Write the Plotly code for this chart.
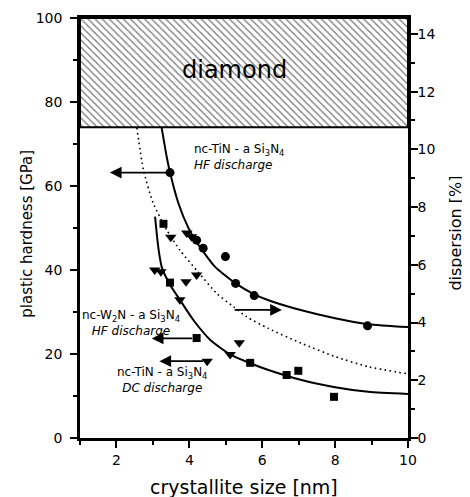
import plotly.graph_objects as go

# ---- data ----
# nc-TiN - a Si3N4, HF discharge (circles, left axis)
tin_hf_x = [3.47, 4.20, 4.38, 4.99, 5.27, 5.78, 8.89]
tin_hf_y = [63.2, 47.1, 45.2, 43.2, 36.8, 33.9, 26.7]

# nc-W2N - a Si3N4, HF discharge (squares, left axis)
w2n_x = [3.29, 3.47, 4.20, 5.67, 6.67, 6.99, 7.97]
w2n_y = [51.0, 37.0, 23.8, 17.9, 15.0, 16.0, 9.8]

# nc-TiN - a Si3N4, DC discharge (down triangles, left axis)
tin_dc_x = [3.49, 3.93, 4.06, 3.05, 3.22, 3.91, 4.20, 3.74, 4.49, 5.12, 5.37]
tin_dc_y = [47.8, 48.8, 47.9, 40.0, 39.6, 37.2, 38.8, 32.9, 18.3, 19.9, 22.7]

# fitted curves (left axis)
fit_hf_x = [3.24, 3.38, 3.47, 3.70, 3.97, 4.20, 4.38, 4.70, 5.27, 5.78, 6.17, 7.08, 8.00, 8.91, 10.0]
fit_hf_y = [73.9, 66.9, 63.2, 55.9, 50.1, 46.6, 44.4, 40.8, 36.8, 34.2, 32.8, 30.4, 28.5, 27.1, 26.4]

fit_lo_x = [3.06, 3.12, 3.18, 3.25, 3.47, 3.74, 4.11, 4.57, 5.12, 5.67, 6.17, 7.08, 8.00, 8.91, 10.0]
fit_lo_y = [52.7, 47.5, 43.5, 40.5, 36.5, 32.9, 28.1, 23.4, 19.9, 17.8, 16.2, 13.8, 12.1, 11.0, 10.5]

# dispersion curve (right axis, %)
disp_x = [2.56, 2.74, 3.01, 3.38, 3.74, 4.24, 4.75, 5.21, 5.57, 6.16, 7.08, 8.00, 8.91, 10.0]
disp_y = [10.75, 9.29, 8.13, 7.21, 6.51, 5.75, 5.01, 4.55, 4.20, 3.80, 3.28, 2.82, 2.47, 2.22]

# diamond region (hardness)
diamond_x = [1, 10, 10, 1, 1]
diamond_y = [74, 74, 100, 100, 74]

x_ticks = [2, 4, 6, 8, 10]
y_ticks = [0, 20, 40, 60, 80, 100]
y2_ticks = [0, 2, 4, 6, 8, 10, 12, 14]

FONT = "DejaVu Sans"

fig = go.Figure()

fig.add_trace(go.Scatter(
    x=diamond_x, y=diamond_y, mode="lines", fill="toself",
    fillcolor="white",
    fillpattern=dict(shape="\\", fgcolor="black", bgcolor="white", size=5, solidity=0.28),
    line=dict(color="black", width=2), hoverinfo="skip", showlegend=False))

fig.add_trace(go.Scatter(x=fit_hf_x, y=fit_hf_y, mode="lines",
                         line=dict(color="black", width=2, shape="spline", smoothing=0.6),
                         showlegend=False))
fig.add_trace(go.Scatter(x=fit_lo_x, y=fit_lo_y, mode="lines",
                         line=dict(color="black", width=2, shape="spline", smoothing=0.6),
                         showlegend=False))
fig.add_trace(go.Scatter(x=disp_x, y=disp_y, mode="lines", yaxis="y2",
                         line=dict(color="black", width=1.6, dash="1.6px,3.4px",
                                   shape="spline", smoothing=0.6),
                         showlegend=False))

fig.add_trace(go.Scatter(x=tin_hf_x, y=tin_hf_y, mode="markers",
                         marker=dict(symbol="circle", size=9, color="black"), showlegend=False))
fig.add_trace(go.Scatter(x=w2n_x, y=w2n_y, mode="markers",
                         marker=dict(symbol="square", size=8, color="black"), showlegend=False))
fig.add_trace(go.Scatter(x=tin_dc_x, y=tin_dc_y, mode="markers",
                         marker=dict(symbol="triangle-down", size=10, color="black"), showlegend=False))

# arrows
arrows = [
    ((1.82, 63.2), (3.42, 63.2)),
    ((6.54, 30.5), (5.20, 30.5)),
    ((2.97, 23.7), (4.12, 23.7)),
    ((3.18, 18.3), (4.42, 18.3)),
]
for (hx, hy), (tx, ty) in arrows:
    fig.add_annotation(x=hx, y=hy, ax=tx, ay=ty, xref="x", yref="y", axref="x", ayref="y",
                       text="", showarrow=True, arrowhead=2, arrowsize=1.3,
                       arrowwidth=1.8, arrowcolor="black")

lab = dict(family=FONT, size=12, color="black")
fig.add_annotation(x=4.08, y=67.0, xref="x", yref="y", xanchor="left", yanchor="middle",
                   align="left",
                   text="nc-TiN - a Si<sub>3</sub>N<sub>4</sub><br><i>HF discharge</i>",
                   showarrow=False, font=lab)
fig.add_annotation(x=2.40, y=27.3, xref="x", yref="y", xanchor="center", yanchor="middle",
                   align="center",
                   text="nc-W<sub>2</sub>N - a Si<sub>3</sub>N<sub>4</sub><br><i>HF discharge</i>",
                   showarrow=False, font=lab)
fig.add_annotation(x=3.25, y=13.9, xref="x", yref="y", xanchor="center", yanchor="middle",
                   align="center",
                   text="nc-TiN - a Si<sub>3</sub>N<sub>4</sub><br><i>DC discharge</i>",
                   showarrow=False, font=lab)
fig.add_annotation(x=5.23, y=87.6, xref="x", yref="y", xanchor="center", yanchor="middle",
                   text="diamond", showarrow=False,
                   font=dict(family=FONT, size=24, color="black"))

# axis titles
fig.add_annotation(x=0.5, y=-0.117, xref="paper", yref="paper", xanchor="center", yanchor="middle",
                   text="crystallite size [nm]",
                   showarrow=False, font=dict(family=FONT, size=19, color="black"))
fig.add_annotation(x=-0.162, y=0.486, xref="paper", yref="paper", xanchor="center", yanchor="middle",
                   text="plastic hardness [GPa]",
                   textangle=-90, showarrow=False, font=dict(family=FONT, size=15, color="black"))
fig.add_annotation(x=1.142, y=0.488, xref="paper", yref="paper", xanchor="center", yanchor="middle",
                   text="dispersion [%]",
                   textangle=-90, showarrow=False, font=dict(family=FONT, size=16, color="black"))

axis_common = dict(showgrid=False, zeroline=False, showline=True, linecolor="black",
                   linewidth=2.5, ticks="outside", ticklen=7, tickwidth=2, tickcolor="black",
                   tickfont=dict(family=FONT, size=14, color="black"))

# the page body adds an 8px offset, so the figure is offset-compensated via margins
fig.update_layout(
    width=470, height=489,
    margin=dict(l=72, r=70, t=10, b=59, autoexpand=False),
    paper_bgcolor="white", plot_bgcolor="white",
    xaxis=dict(range=[1, 10], tickvals=x_ticks, mirror=True,
               minor=dict(dtick=1, tick0=0, ticks="outside", ticklen=4, tickwidth=2, tickcolor="black"),
               **axis_common),
    yaxis=dict(range=[0, 100], tickvals=y_ticks, ticklabelstandoff=5,
               minor=dict(dtick=10, tick0=0, ticks="outside", ticklen=4, tickwidth=2, tickcolor="black"),
               **axis_common),
    yaxis2=dict(range=[0, 14.55], tickvals=y2_ticks, overlaying="y", side="right",
                ticklabelstandoff=-3,
                minor=dict(dtick=1, tick0=0, ticks="outside", ticklen=4, tickwidth=2, tickcolor="black"),
                **axis_common),
)

fig.write_html("out.html")
